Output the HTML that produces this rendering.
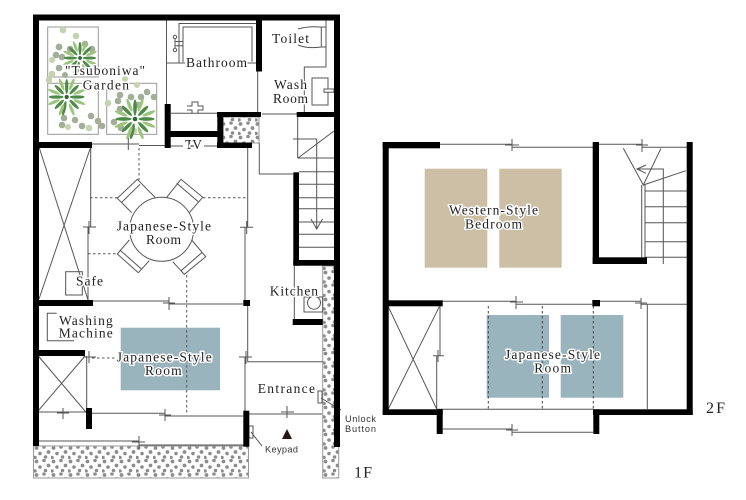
<!DOCTYPE html>
<html><head><meta charset="utf-8"><style>
html,body{margin:0;padding:0;background:#fff}
svg{display:block;filter:blur(.35px)}
text{font-family:"Liberation Serif",serif;font-size:13.5px;fill:#222}
.h{paint-order:stroke;stroke:#fff;stroke-width:3px;stroke-linejoin:round}
.s{font-family:"Liberation Sans",sans-serif;font-size:9.2px;fill:#333}
</style></head><body>
<svg width="746" height="500" viewBox="0 0 746 500" xmlns="http://www.w3.org/2000/svg">
<defs>
<pattern id="g" width="17" height="13.5" patternUnits="userSpaceOnUse">
<g fill="#8c8c8c"><circle cx="2.5" cy="2.5" r="1.9"/><circle cx="10" cy="1.5" r="1.8"/><circle cx="14.5" cy="6.5" r="1.9"/><circle cx="6" cy="8" r="1.8"/><circle cx="11.5" cy="11.5" r="1.8"/><circle cx="1" cy="12" r="1.8"/></g>
</pattern>
<g id="plant">
<g fill="#4c8a45"><ellipse cx="0" cy="-10" rx="1.6" ry="7"/><ellipse cx="0" cy="11" rx="1.6" ry="7" transform="rotate(12)"/><ellipse cx="10" cy="0" rx="7" ry="1.6"/><ellipse cx="-10" cy="0" rx="7" ry="1.6"/><ellipse cx="0" cy="-10" rx="1.6" ry="6" transform="rotate(45)"/><ellipse cx="0" cy="-10" rx="1.6" ry="6" transform="rotate(135)"/><ellipse cx="0" cy="-10" rx="1.6" ry="6" transform="rotate(225)"/><ellipse cx="0" cy="-10" rx="1.6" ry="6" transform="rotate(315)"/></g>
<g fill="#9cc47c"><ellipse cx="0" cy="-13" rx="1.5" ry="6" transform="rotate(22)"/><ellipse cx="0" cy="-13" rx="1.5" ry="6" transform="rotate(68)"/><ellipse cx="0" cy="-13" rx="1.5" ry="6" transform="rotate(112)"/><ellipse cx="0" cy="-13" rx="1.5" ry="6" transform="rotate(158)"/><ellipse cx="0" cy="-13" rx="1.5" ry="6" transform="rotate(202)"/><ellipse cx="0" cy="-13" rx="1.5" ry="6" transform="rotate(248)"/><ellipse cx="0" cy="-13" rx="1.5" ry="6" transform="rotate(292)"/><ellipse cx="0" cy="-13" rx="1.5" ry="6" transform="rotate(338)"/></g>
<circle r="2" fill="#2d6430"/>
</g>
</defs>

<!-- colour fills -->
<rect x="120.7" y="327.7" width="99.3" height="62.6" fill="#9ab4bd"/>
<rect x="424.7" y="168.7" width="62.6" height="99" fill="#cdbfa6"/>
<rect x="499.3" y="168.7" width="62.4" height="99" fill="#cdbfa6"/>
<rect x="486.7" y="315" width="62.3" height="82.7" fill="#9ab4bd"/>
<rect x="560.7" y="315" width="62.6" height="82.7" fill="#9ab4bd"/>

<!-- gravel -->
<rect x="33.5" y="446" width="215" height="32" fill="url(#g)" stroke="#999"/>
<rect x="322.7" y="266" width="16" height="212" fill="url(#g)" stroke="#999"/>
<rect x="223" y="117" width="36" height="26" fill="url(#g)" stroke="#999"/>

<!-- garden -->
<g fill="none" stroke="#999"><rect x="47.7" y="27" width="50.6" height="50"/><rect x="47.7" y="83.3" width="50.6" height="51"/><rect x="106.7" y="83.3" width="50" height="51"/></g>
<g fill="#a3ae99">
<circle cx="63" cy="30" r="3.3" fill="#c5d3b0"/><circle cx="76" cy="36" r="3.3" fill="#c5d3b0"/><circle cx="59" cy="47" r="3.4"/><circle cx="70" cy="49" r="3.3"/><circle cx="85" cy="44" r="3.3"/><circle cx="92" cy="49" r="3.3"/><circle cx="56" cy="55" r="3.3"/><circle cx="62" cy="57" r="3.3"/><circle cx="52" cy="60" r="3" fill="#c5d3b0"/><circle cx="59" cy="68" r="3.3"/><circle cx="52" cy="74" r="3.3" fill="#c5d3b0"/><circle cx="49" cy="80" r="3.3" fill="#c5d3b0"/><circle cx="65" cy="75" r="3"/><circle cx="125" cy="79" r="3" fill="#c5d3b0"/><circle cx="137" cy="85" r="3" fill="#c5d3b0"/><circle cx="147" cy="92" r="3.3"/><circle cx="120" cy="95" r="3.3"/><circle cx="131" cy="97" r="3.3"/><circle cx="141" cy="97" r="3.3"/><circle cx="154" cy="97" r="3.3"/><circle cx="118" cy="101" r="3.3"/><circle cx="108" cy="103" r="3.3" fill="#c5d3b0"/><circle cx="120" cy="109" r="3.3"/><circle cx="138" cy="105" r="3.3"/><circle cx="114" cy="122" r="3.3"/><circle cx="121" cy="128" r="3.3"/><circle cx="134" cy="131" r="3.3" fill="#c5d3b0"/><circle cx="64" cy="118" r="3.3"/><circle cx="75" cy="120" r="3.3"/><circle cx="91" cy="116" r="3.3"/><circle cx="62" cy="125" r="3.3"/><circle cx="68" cy="127" r="3" fill="#c5d3b0"/><circle cx="82" cy="126" r="3.3"/><circle cx="89" cy="128" r="3.3" fill="#c5d3b0"/><circle cx="98" cy="121" r="3.3"/><circle cx="102" cy="126" r="3.3"/>
</g>
<use href="#plant" transform="translate(80,58) scale(.95)"/>
<use href="#plant" transform="translate(66.7,97) scale(1.05)"/>
<use href="#plant" transform="translate(135,119) scale(1.15)"/>

<!-- thin lines 1F -->
<g fill="none" stroke="#555" stroke-width="1">
<path d="M166.5 20V104M166.5 63H185M247 63H257.7"/>
<path d="M179 63V23.5H256M183 62V27H252V61.7"/>
<circle cx="175" cy="37" r="1.7"/><circle cx="175" cy="50" r="1.7"/><path d="M175 41.5H183V45.7H175ZM175 39V41M175 46V48"/>
<path d="M171 113.3H217M187 106H192V102H198V106H203V110H198V113M192 113V110H187"/>
<path d="M321.3 27H326M321.3 27V47H326M298 29Q308 26 321 27M298 45Q308 49 321 47"/>
<path d="M326 20V67H304.3V112M257.7 71V112M262 114H297"/>
<rect x="312" y="78" width="16" height="27"/><rect x="324" y="89" width="10" height="3.2" fill="#fff"/>
<path d="M259.3 143V174H293M297.7 117V158M293 139H316.7V229M311 219L316.7 229L322.5 219M298 158L334 131"/>
<path d="M298 158H334M299 171.7H334M299 184.3H334M299 197.7H334M299 208.7H334M299 222H334M299 234.3H334M299 247.3H334"/>
<path d="M294.3 266V321"/>
<rect x="304" y="297" width="18.7" height="15"/><circle cx="314" cy="302.7" r="6.5" fill="#fff"/>
<path d="M92 144H139M139 145.5H165M122 144H134M128.3 138V150M170 146H183M204 146H217"/>
<path d="M247.7 143V227M240 227.3H253M246.7 221V234M245 227V300M247.7 306V361.7H322.7M245 357V411M239 357H252M246 351V364"/>
<path d="M90.7 147V227M88 227V300M83 227H96M89 221V234"/>
<path d="M39 147L88 300M90.7 147L39 299"/>
<rect x="65.7" y="271.7" width="16.6" height="23.3"/>
<path d="M93 301H169M169 304H243M169 297V310M163 303H175"/>
<path d="M56.7 313.3H47.3V340.7H74"/>
<path d="M86.7 356V408M83 357H96M89 351V363"/>
<path d="M38.3 410.7L85 356M38.3 356L86.7 413"/>
<path d="M39 412H86M92 413.3H165M165 416H243M57 413H69M63 408V419M159 415H171M165 409V421"/>
<path d="M39 441H139M139 445H245M132 442H145M139 436V449"/>
<path d="M249 414H322M281 412H294M287 406V418"/>
<rect x="249" y="426" width="4" height="12"/><path d="M251 432L262 446"/>
<rect x="318" y="391" width="4" height="12" fill="#fff"/><path d="M321 398L341 410"/>
<circle cx="161.7" cy="229.3" r="32"/>
<path d="M131.7 212.7L117.3 198.3L137.3 179.3L155 197.3M121.7 202.3L140 184.3"/>
<path d="M166.7 197.3L181 179.3L202.7 197.3L189.3 212.7M176.7 183.3L198.3 201.7"/>
<path d="M129.3 240L117.3 254L138.3 272.7L149.3 260.7M120.7 250.7L141.7 269.3"/>
<path d="M191.7 240L205.7 256.7L184.3 274.3L172.7 261.7M201.7 252.7L181 270.7"/>
</g>
<g fill="none" stroke="#555" stroke-width="1" stroke-dasharray="2.5 2.5">
<path d="M139 148V180M90 197.7H118M203 197.7H248M88 253.7H118M186.7 275V415M92 358H116"/>
</g>

<!-- thick walls 1F -->
<g fill="#000">
<rect x="33" y="14.5" width="307" height="6"/>
<rect x="33" y="14.5" width="6" height="431.5"/>
<rect x="334" y="14.5" width="6" height="432.5"/>
<rect x="38" y="142" width="54" height="6"/>
<rect x="164.7" y="104" width="6" height="44"/>
<rect x="170" y="131" width="48" height="6"/>
<rect x="217.3" y="112" width="6" height="36"/>
<rect x="217" y="112" width="44" height="5"/>
<rect x="217" y="142.5" width="35" height="5.5"/>
<rect x="256" y="14.5" width="6" height="57"/>
<rect x="296.7" y="112" width="38" height="5"/>
<rect x="293.3" y="172.3" width="5.7" height="93.4"/>
<rect x="293.3" y="260" width="41" height="5.7"/>
<rect x="292.7" y="319" width="30" height="6"/>
<rect x="39" y="300" width="54" height="6"/>
<rect x="243.3" y="300" width="6.7" height="6"/>
<rect x="39" y="350" width="46" height="6"/>
<rect x="86" y="408" width="6" height="21"/>
<rect x="243.3" y="410.7" width="6" height="36"/>
<path d="M282 439H292L287 429Z" fill="#2a1515"/>
</g>

<!-- 2F thin -->
<g fill="none" stroke="#555" stroke-width="1">
<path d="M440 144.3H512M512 147.3H593M505 145H519M512 139V151"/>
<path d="M599 144.3H642M642 147.3H687M636 145H648M642 139V152"/>
<path d="M623.3 148.3L643.3 185L661 148.3M643.3 185L686 170.7"/>
<path d="M641.7 185V257M645 185V257M645 191H687M645 206.7H687M645 222.7H687M645 241.7H687M645 257.3H687"/>
<path d="M663.3 264V169H637M646 165L637 169L646 173.3"/>
<path d="M442 301.3H516M516 304.3H592M510 302H523M516 296V309"/>
<path d="M600 301.3H641M641 304.3H687M635 303H647M641 298V309"/>
<path d="M647.3 304V409M437 409.3H593M440 306V355.7M436.7 355.7V409M433 355.7H444M438 350V362"/>
<path d="M388.3 306.7L436.7 409M439.3 306.7L388.3 409"/>
<path d="M443 429H512M512 432.3H593M506 430H518M512 424V436"/>
</g>
<g fill="none" stroke="#444" stroke-width="1" stroke-dasharray="2.5 2.5">
<path d="M488.3 306V409M542.3 306V409M593.3 306V409"/>
</g>
<!-- 2F thick -->
<g fill="#000">
<rect x="382.7" y="142" width="57.3" height="6.3"/>
<rect x="382.7" y="142" width="6" height="273"/>
<rect x="388" y="300.3" width="54.7" height="6"/>
<rect x="382.7" y="409.3" width="60" height="5.7"/>
<rect x="436.7" y="409.3" width="6" height="24.7"/>
<rect x="593.3" y="409.3" width="6" height="24.7"/>
<rect x="593" y="409.3" width="99.7" height="5.7"/>
<rect x="686.7" y="142" width="6" height="273"/>
<rect x="592.7" y="142" width="6.3" height="122"/>
<rect x="592.7" y="257.3" width="54.3" height="6.7"/>
<rect x="592.3" y="300" width="7.7" height="6.3"/>
</g>

<!-- labels -->
<text class="h" x="65" y="75" textLength="80">"Tsuboniwa"</text>
<text class="h" x="82.7" y="89.3" textLength="46.3">Garden</text>
<text class="h" x="186" y="67" textLength="61">Bathroom</text>
<text class="h" x="272" y="43" textLength="37">Toilet</text>
<text class="h" x="274" y="89" textLength="33">Wash</text>
<text class="h" x="273" y="103" textLength="35">Room</text>
<text class="h" x="185" y="149" textLength="17">T-V</text>
<text class="h" x="116.7" y="230.7" textLength="94.3">Japanese-Style</text>
<text class="h" x="146" y="244" textLength="35">Room</text>
<text class="h" x="76" y="285.3" textLength="27">Safe</text>
<text class="h" x="59" y="325" textLength="53.7">Washing</text>
<text class="h" x="58.7" y="337.7" textLength="54">Machine</text>
<text class="h" x="116.7" y="361.7" textLength="95">Japanese-Style</text>
<text class="h" x="145" y="375" textLength="36.7">Room</text>
<text class="h" x="269.7" y="295.7" textLength="48.3">Kitchen</text>
<text class="h" x="257.7" y="393" textLength="57.3">Entrance</text>
<text class="s" x="265" y="452.7" textLength="33">Keypad</text>
<text class="s" x="345" y="422" textLength="31">Unlock</text>
<text class="s" x="345" y="432" textLength="31">Button</text>
<text x="354" y="477.7" textLength="18" style="font-size:16px">1F</text>
<text class="h" x="449" y="214.7" textLength="89">Western-Style</text>
<text class="h" x="465" y="228.7" textLength="57">Bedroom</text>
<text class="h" x="505" y="359" textLength="95">Japanese-Style</text>
<text class="h" x="534.3" y="372.7" textLength="36.7">Room</text>
<text x="706" y="413" textLength="19" style="font-size:16px">2F</text>
</svg>
</body></html>
